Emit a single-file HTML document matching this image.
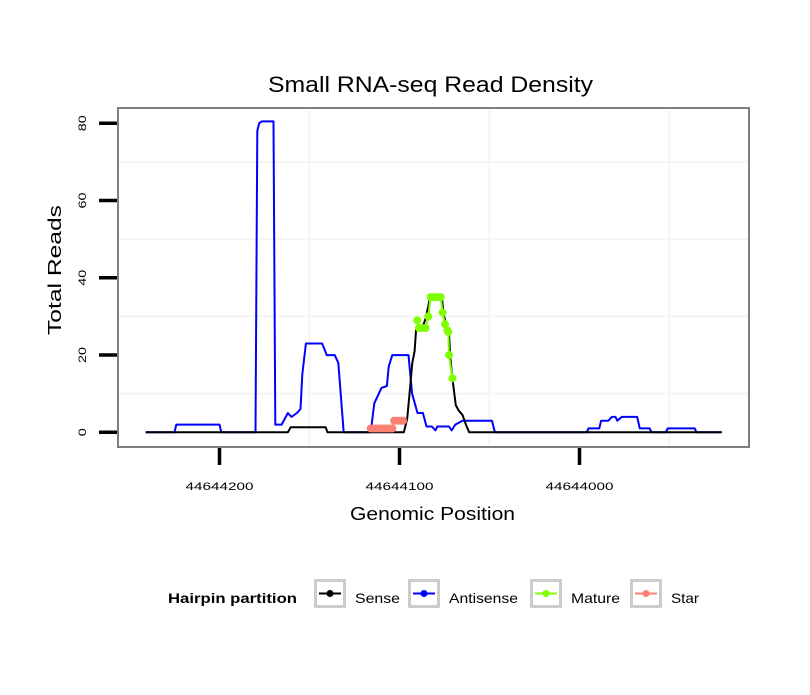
<!DOCTYPE html>
<html><head><meta charset="utf-8"><style>
body{margin:0;background:#fff;}
svg text{font-family:"Liberation Sans",sans-serif;}
</style></head><body>
<svg id="chart" width="810" height="690" xmlns="http://www.w3.org/2000/svg">
<rect width="810" height="690" fill="#fff"/>
<text x="268" y="92" font-size="22" textLength="325" lengthAdjust="spacingAndGlyphs">Small RNA-seq Read Density</text>
<rect x="118" y="108" width="631" height="339" fill="#fff"/>
<g id="grid"></g>
<g id="series"></g>
<rect x="118" y="108" width="631" height="339" fill="none" stroke="#7f7f7f" stroke-width="2"/>
<g id="axes"></g>
<text x="350" y="520" font-size="18" textLength="165" lengthAdjust="spacingAndGlyphs">Genomic Position</text>
<text transform="translate(61,335) rotate(-90)" font-size="18" textLength="130" lengthAdjust="spacingAndGlyphs">Total Reads</text>
<g>
<text x="168" y="603" font-size="14" font-weight="bold" textLength="129" lengthAdjust="spacingAndGlyphs">Hairpin partition</text>
<g id="legend-keys"></g>
</g>
</svg>
<script>
const xTicks = [44644200, 44644100, 44644000];
const yTicks = [0, 20, 40, 60, 80];
const sensePos = [44644241,44644162,44644160.5,44644141,44644140,44644097.6,44644095.7,44644094.2,44644092.9,44644091.6,44644090.7,44644087.3,44644085.5,44644083.6,44644083.2,44644076.5,44644075.6,44644074.3,44644072.5,44644071.9,44644070.6,44644068.7,44644066.9,44644065,44644063.1,44644061.3,44643921];
const senseVal = [0,0,1.3,1.3,0,0,3.5,11,18,21,27,27,29.5,33.5,35,35,31,28,26,20,14,7,5.5,4.5,2,0,0];
const antiPos = [44644241,44644225,44644224,44644200,44644199,44644180,44644179,44644178,44644176.5,44644170,44644169,44644165.5,44644162,44644160,44644157,44644155,44644154,44644152,44644143,44644140.4,44644136,44644134,44644131,44644116,44644114,44644110,44644107,44644106,44644104,44644095,44644093,44644090,44644087,44644085,44644082,44644080,44644079,44644072.5,44644071,44644069,44644065,44644048.6,44644047,44643996,44643995,44643989,44643988,44643984,44643982,44643980,44643979,44643976.5,44643968,44643966.5,44643961,44643960,44643952,44643951,44643936,44643935,44643921];
const antiVal = [0,0,2,2,0,0,78,80,80.5,80.5,2,2,5,4,5,6,15,23,23,20,20,18,0,0,7.5,11.5,12,17,20,20,10,5,5,1.5,1.5,0.5,1.5,1.5,0.5,2,3,3,0,0,1,1,3,3,4,4,3,4,4,1,1,0,0,1,1,0,0];
const maturePos = [44644090.1,44644089.2,44644087.5,44644085.5,44644084,44644082.7,44644081.3,44644079.9,44644078.5,44644077.1,44644076.1,44644074.7,44644073.4,44644072.9,44644072.5,44644070.6];
const matureVal = [29,27,27,27,30,35,35,35,35,35,31,28,26.4,26,20,14];
const starPos = [44644116,44644114.5,44644113,44644111.5,44644110,44644108.5,44644107,44644105.5,44644104,44644103,44644101.5,44644100,44644099,44644098];
const starVal = [1,1,1,1,1,1,1,1,1,3,3,3,3,3];

const NS="http://www.w3.org/2000/svg";
function xs(p){return 219.5+(44644200-p)*1.8;}
function ys(v){return 432.3-v*(309/80);}
function mk(tag,attrs,parent){const e=document.createElementNS(NS,tag);for(const k in attrs)e.setAttribute(k,attrs[k]);parent.appendChild(e);return e;}
const grid=document.getElementById('grid'),series=document.getElementById('series'),axes=document.getElementById('axes');
for(let i=0;i<xTicks.length;i++){
  const gx=xs(xTicks[i]-50);
  const l=mk('line',{x1:gx,x2:gx,y1:109,y2:446,stroke:'#f4f4f4','stroke-width':2},grid);
  
  
  const t=mk('line',{x1:xs(xTicks[i]),x2:xs(xTicks[i]),y1:448,y2:465,stroke:'#000','stroke-width':3.5},axes);
  
  
  const tx=mk('text',{x:xs(xTicks[i])-34,y:490,'font-size':11,textLength:68,lengthAdjust:'spacingAndGlyphs'},axes);
  tx.textContent=xTicks[i];
  
  
}
for(let i=0;i<yTicks.length;i++){
  if(i<yTicks.length-1){
    const gy=ys(yTicks[i]+10);
    const l=mk('line',{x1:119,x2:748,y1:gy,y2:gy,stroke:'#f4f4f4','stroke-width':2},grid);
    
    
  }
  const y=ys(yTicks[i]);
  const t=mk('line',{x1:99,x2:117,y1:y,y2:y,stroke:'#000','stroke-width':3.5},axes);
  
  
  const lab=String(yTicks[i]);
  const w=lab.length*8;
  const tx=mk('text',{transform:`translate(86,${y+w/2}) rotate(-90)`,'font-size':11,textLength:w,lengthAdjust:'spacingAndGlyphs'},axes);
  tx.textContent=lab;
  
  
}
function pts(P,V){return P.map((p,i)=>xs(p).toFixed(1)+','+ys(V[i]).toFixed(1)).join(' ');}
const a=mk('polyline',{points:pts(antiPos,antiVal),fill:'none',stroke:'#0000ff','stroke-width':2,'stroke-linejoin':'round'},series);


const s=mk('polyline',{points:pts(sensePos,senseVal),fill:'none',stroke:'#000','stroke-width':2,'stroke-linejoin':'round'},series);


const st=mk('polyline',{points:pts(starPos,starVal),fill:'none',stroke:'#fa8072','stroke-width':2},series);


for(let i=0;i<starPos.length;i++){
  const c=mk('circle',{cx:xs(starPos[i]),cy:ys(starVal[i]),r:4,fill:'#fa8072'},series);
  
  
}
const m=mk('polyline',{points:pts(maturePos,matureVal),fill:'none',stroke:'#7fff00','stroke-width':2},series);


for(let i=0;i<maturePos.length;i++){
  const c=mk('circle',{cx:xs(maturePos[i]),cy:ys(matureVal[i]),r:4,fill:'#7fff00'},series);
  
  
}
const lk=document.getElementById('legend-keys');
const keys=[['Sense','#000',314,45],['Antisense','#0000ff',408,69],['Mature','#7fff00',530,49],['Star','#fa8072',630,28]];
for(const [lab,col,x,tw] of keys){
  const g=mk('g',{},lk);
  
  
  mk('rect',{x:x+1.5,y:580.5,width:29,height:26,fill:'#fff',stroke:'#cccccc','stroke-width':3},g);
  mk('line',{x1:x+5,x2:x+27,y1:593.5,y2:593.5,stroke:col,'stroke-width':2},g);
  mk('circle',{cx:x+16,cy:593.5,r:3.5,fill:col},g);
  const t=mk('text',{x:x+41,y:603,'font-size':14,textLength:tw,lengthAdjust:'spacingAndGlyphs'},g);
  t.textContent=lab;
}
</script>
</body></html>
